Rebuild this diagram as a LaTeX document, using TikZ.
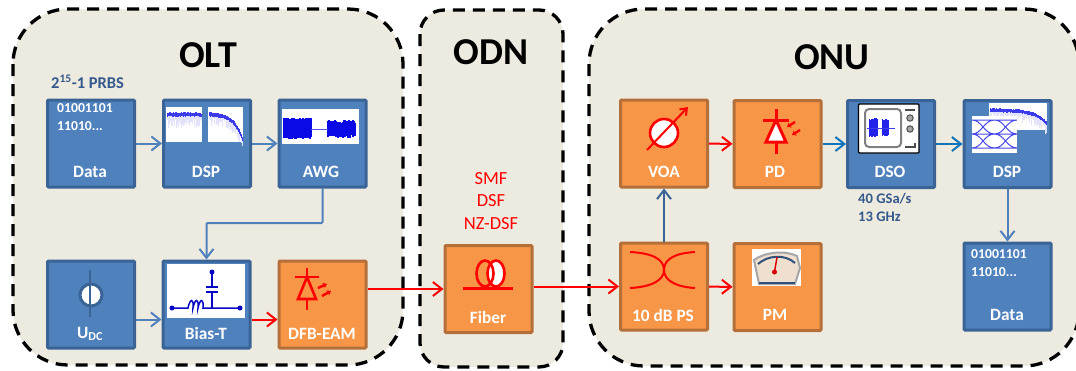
\documentclass[tikz,border=0pt]{standalone}
\usepackage{fontspec}
\setmainfont{Carlito}
\usepackage{tikz}
\usetikzlibrary{arrows.meta}
\definecolor{regionbg}{HTML}{EDEAE0}
\definecolor{bluefill}{HTML}{4F81BD}
\definecolor{blueline}{HTML}{3B6496}
\definecolor{orangefill}{HTML}{F79646}
\definecolor{orangeline}{HTML}{B5703A}
\definecolor{linkblue}{HTML}{0F75BC}
\definecolor{textblue}{HTML}{34598C}
\definecolor{plotblue}{HTML}{0A0AE6}
\begin{document}
\begin{tikzpicture}[x=1pt, y=-1pt, >={Straight Barb[length=9pt,width=14pt,line width=2pt]},
                      region/.style = {draw = black, fill = regionbg, line width = 3.3pt, dash pattern = on 12pt off 8pt},
                      bluebox/.style = {draw = blueline, fill = bluefill, line width = 3pt, rounded corners = 1pt, minimum size = 87pt, inner sep = 0pt},
                      orangebox/.style = {draw = orangeline, fill = orangefill, line width = 3pt, rounded corners = 1pt, minimum size = 87pt, inner sep = 0pt},
                      boxtext/.style = {text = white, font = \fontsize{17.3}{17.3}\selectfont\bfseries, inner sep = 0pt},
                      bits/.style = {text = white, font = \fontsize{13.7}{18}\selectfont\bfseries, align = left, anchor = north west, inner sep = 0pt},
                      title/.style = {font = \fontsize{38}{38}\selectfont\bfseries, inner sep = 0pt},
                      note/.style = {text = textblue, font = \fontsize{14.6}{18}\selectfont\bfseries, align = left, inner sep = 0pt},
                      bluelink/.style = {->, draw = bluefill, line width = 2pt},
                      darklink/.style = {->, draw = linkblue, line width = 2pt},
                      redlink/.style = {->, draw = red, line width = 2pt},
                      icon/.style = {draw = red, line width = 2.6pt},
                      thinicon/.style = {draw = red, line width = 2pt},
                      lightray/.style = {draw = red, line width = 2.4pt, -{Stealth[length=4pt,width=6pt]}},
                      plot/.style = {fill = white, draw = none}]
    \useasboundingbox (0, 0) rectangle (1076, 370);
    \fill[white] (0, 0) rectangle (1076, 370);

    \draw[region, rounded corners = 55pt] (13, 9) rectangle (403, 365);
    \draw[region, rounded corners = 24pt] (420, 10) rectangle (563, 367);
    \draw[region, rounded corners = 55pt] (589, 9) rectangle (1079, 366);

    \node [title] (olt) at (208, 55) {OLT};
    \node [title] (odn) at (491, 52) {ODN};
    \node [title] (onu) at (832, 57) {ONU};

    \node [bluebox] (data1) at (91, 143.5) {};
    \node [bluebox] (dsp1) at (207, 143.5) {};
    \node [bluebox] (awg) at (322.5, 143.5) {};
    \node [bluebox] (udc) at (91, 304.5) {};
    \node [bluebox] (biast) at (206.5, 304.5) {};
    \node [orangebox] (dfb) at (322.5, 304.5) {};
    \node [orangebox] (fiber) at (488.5, 289) {};
    \node [orangebox] (voa) at (664, 143.5) {};
    \node [orangebox] (ps) at (664, 286.5) {};
    \node [orangebox] (pd) at (777.5, 144) {};
    \node [orangebox] (pm) at (777.5, 287) {};
    \node [bluebox] (dso) at (891, 144) {};
    \node [bluebox] (dsp2) at (1007.5, 144) {};
    \node [bluebox] (data2) at (1007.5, 286.5) {};

    \node [note, anchor = west, font = \fontsize{16.5}{18}\selectfont\bfseries] (prbs) at (51, 82) {2\textsuperscript{15}-1 PRBS};
    \node [note, anchor = north west] (rate) at (858, 193) {40 GSa/s\\13 GHz};
    \node [bits] (bits1) at (57, 103) {01001101\\11010...};
    \node [bits] (bits2) at (971, 249) {01001101\\11010...};
    \node [text = red, font = \fontsize{18.5}{22.5}\selectfont, align = center, inner sep = 0pt] (fibers) at (491, 201) {SMF\\DSF\\NZ-DSF};

    \node [boxtext] (t1) at (90, 172) {Data};
    \node [boxtext] (t2) at (206, 172) {DSP};
    \node [boxtext] (t3) at (321, 172) {AWG};
    \node [boxtext] (t4) at (90, 334) {U\textsubscript{DC}};
    \node [boxtext] (t5) at (206, 333) {Bias-T};
    \node [boxtext] (t6) at (322, 334) {DFB-EAM};
    \node [boxtext] (t7) at (488, 317) {Fiber};
    \node [boxtext] (t8) at (664, 172) {VOA};
    \node [boxtext] (t9) at (663, 315) {10 dB PS};
    \node [boxtext] (t10) at (775, 172) {PD};
    \node [boxtext] (t11) at (775, 315) {PM};
    \node [boxtext] (t12) at (890, 172) {DSO};
    \node [boxtext] (t13) at (1007, 172) {DSP};
    \node [boxtext] (t14) at (1007, 315) {Data};

    % first dsp plots
    \pgfmathsetseed{7}
    \fill[plot] (166, 107) rectangle (201.5, 141.5);
    \fill[plot] (208, 107) rectangle (243, 141.5);
    \foreach \x in {167, 168, ..., 201} {
        \draw[plotblue!12, line width = 1pt] (\x, 116) -- (\x, {119 + 9*rnd});
        \draw[plotblue!80, line width = 1pt] (\x, {112 + 1.5*rnd}) -- (\x, {115.5 + 1.5*rnd});
    }
    \foreach \x in {209, 210, ..., 242} {
        \pgfmathsetmacro{\ytrace}{114.5 + 21*((\x - 209)/33)^4 + 3*(\x - 209)/33}
        \draw[plotblue!12, line width = 1pt] (\x, \ytrace) -- (\x, {\ytrace + 3 + 9*rnd});
        \draw[plotblue!80, line width = 1pt] (\x, {\ytrace - 1.5 - rnd}) -- (\x, {\ytrace + 1.5 + rnd});
    }
    % awg trace
    \fill[plot] (282, 109) rectangle (359, 144);
    \foreach \x in {284, 285, ..., 311}
        \draw[plotblue, line width = 1.1pt] (\x, {118 + 1.5*rnd}) -- (\x, {137 + 2.5*rnd});
    \foreach \x in {328, 329, ..., 355}
        \draw[plotblue, line width = 1.1pt] (\x, {120 + 3*rnd}) -- (\x, {135 + 3*rnd});
    \draw[plotblue!70, line width = 1pt] (311, 129) -- (328, 129);

    % voltage source
    \draw[blueline, fill = white, line width = 3pt] (91, 295) circle (11);
    \draw[blueline, line width = 2.2pt] (90, 270) -- (90, 317);
    % bias-t circuit
    \fill[plot] (167, 264) rectangle (245, 318);
    \draw[plotblue!85!black, line width = 1.5pt] (172, 308) -- (188, 308)
        .. controls (190, 298) and (194, 298) .. (193, 308)
        .. controls (195, 298) and (199, 298) .. (198, 308)
        .. controls (200, 298) and (204, 298) .. (203, 308) -- (240, 308);
    \draw[plotblue!85!black, line width = 1.5pt] (212, 272) -- (212, 287) (212, 292) -- (212, 308);
    \draw[plotblue!85!black, line width = 1.8pt] (206, 287) -- (218, 287) (206, 292) -- (218, 292);
    \fill[plotblue!85!black] (172, 308) circle (2.5) (240, 308) circle (2.5) (212, 272) circle (2.5);

    % laser diode
    \draw[icon] (307, 268) -- (307, 277) (295, 277) -- (319, 277) (307, 299) -- (307, 310);
    \draw[icon, line join = miter] (307, 277) -- (298, 299) -- (316, 299) -- cycle;
    \draw[lightray] (318, 288) -- (327, 284);
    \draw[lightray] (322, 296) -- (331, 291);

    % fiber coil
    \draw[icon, fill = white] (496, 273.5) ellipse (8.5 and 13);
    \draw[icon, fill = white, fill opacity = 0] (485, 273.5) ellipse (8.5 and 13);
    \draw[thinicon, line width = 2.4pt] (463, 288.5) -- (513, 288.5);

    % attenuator
    \draw[icon, fill = white] (664, 133) circle (14);
    \draw[red, line width = 2pt, -{Straight Barb[length=6pt,width=9pt,line width=2pt]}] (647, 150) -- (688, 107);

    % splitter
    \draw[thinicon] (630, 252) .. controls (650, 253) and (664, 258) .. (664, 270)
        .. controls (664, 281) and (650, 287) .. (630, 288);
    \draw[thinicon] (695, 252) .. controls (677, 253) and (664, 258) .. (664, 270)
        .. controls (664, 281) and (677, 287) .. (695, 288);

    % photo diode
    \draw[icon, line width = 3pt] (776, 109) -- (776, 120) (763, 120) -- (789, 120) (776, 142) -- (776, 154);
    \draw[icon, line width = 3pt, fill = white, line join = miter] (776, 120) -- (766, 142) -- (786, 142) -- cycle;
    \draw[lightray] (795, 122) -- (787, 127);
    \draw[lightray] (800, 130) -- (792, 135);

    % power meter
    \fill[plot] (752, 249) rectangle (801, 286);
    \draw[fill = brown!25!white, draw = gray!70, line width = 2pt] (754, 260) .. controls (765, 252) and (785, 250) .. (797, 256) -- (800, 268) -- (795, 284) -- (759, 284) -- cycle;
    \draw[blueline!80!black, line width = 2pt] (758, 264) .. controls (768, 255) and (785, 254) .. (795, 263);
    \draw[blueline!80!black, line width = 1.4pt] (759, 283) -- (795, 283);
    \draw[red!85!black, line width = 1.5pt] (777, 257) -- (774.5, 272);
    \fill[red!85!black] (774.5, 272) circle (2.5);

    % scope
    \draw[black, fill = white, line width = 1.2pt, rounded corners = 1pt] (858.5, 104) rectangle (919, 153);
    \draw[gray, fill = white, line width = 2pt, rounded corners = 4pt] (865, 109) rectangle (901, 147);
    \foreach \x in {869, 870, ..., 877}
        \draw[plotblue!90, line width = 1pt] (\x, {118 + 1.5*rnd}) -- (\x, {136 + 1.5*rnd});
    \foreach \x in {882, 883, ..., 888}
        \draw[plotblue!90, line width = 1pt] (\x, {119 + 1.5*rnd}) -- (\x, {135 + 1.5*rnd});
    \draw[plotblue!80, line width = 0.7pt] (867, 128) -- (895, 128);
    \draw[black!70, line width = 1.6pt] (905, 110) -- (915, 110);
    \draw[black!70, fill = gray!70, line width = 1pt] (910, 118) circle (3.2) (910, 129) circle (3.2);
    \draw[black!70, line width = 1.4pt] (905, 147) -- (915, 147) -- (915, 143);

    % second dsp plots
    \fill[plot] (989, 103) rectangle (1047, 130);
    \foreach \x in {990, 991, ..., 1046} {
        \pgfmathsetmacro{\ytrace}{110 + 11*((\x - 990)/56)^5 + 2*(\x - 990)/56}
        \draw[plotblue!12, line width = 1pt] (\x, \ytrace) -- (\x, {\ytrace + 3 + 9*rnd});
        \draw[plotblue!80, line width = 1pt] (\x, {\ytrace - 1.2 - rnd}) -- (\x, {\ytrace + 1.2 + rnd});
    }
    \fill[plot] (972, 116) rectangle (1017, 153);
    \foreach \x in {972, 994.5} {
        \draw[plotblue!75, line width = 1pt] (\x, 120) .. controls (\x + 10, 120) and (\x + 12, 134) .. (\x + 22.5, 134)
            (\x, 134) .. controls (\x + 10, 134) and (\x + 12, 120) .. (\x + 22.5, 120)
            (\x, 134) .. controls (\x + 10, 134) and (\x + 12, 148) .. (\x + 22.5, 148)
            (\x, 148) .. controls (\x + 10, 148) and (\x + 12, 134) .. (\x + 22.5, 134)
            (\x, 120) -- (\x + 22.5, 120) (\x, 134) -- (\x + 22.5, 134) (\x, 148) -- (\x + 22.5, 148);
    }

    \draw[bluelink] (data1) -- (dsp1);
    \draw[bluelink] (dsp1) -- (awg);
    \draw[bluelink, rounded corners = 1pt] (awg.south) -- (322.5, 223) -| (biast.north);
    \draw[bluelink] ([yshift = -15pt]udc.east) -- ([yshift = -15pt]biast.west);
    \draw[redlink] ([yshift = -15pt]biast.east) -- ([yshift = -15pt]dfb.west);
    \draw[redlink] (dfb.east |- fiber.west) -- (fiber.west);
    \draw[redlink] (fiber.east |- ps.west) -- (ps.west);
    \draw[->, draw = blueline, line width = 2.2pt] (ps.north) -- (voa.south);
    \draw[redlink] (voa) -- (pd);
    \draw[redlink] (ps) -- (pm);
    \draw[darklink] (pd) -- (dso);
    \draw[darklink] (dso) -- (dsp2);
    \draw[bluelink] (dsp2) -- (data2);
\end{tikzpicture}
\end{document}
